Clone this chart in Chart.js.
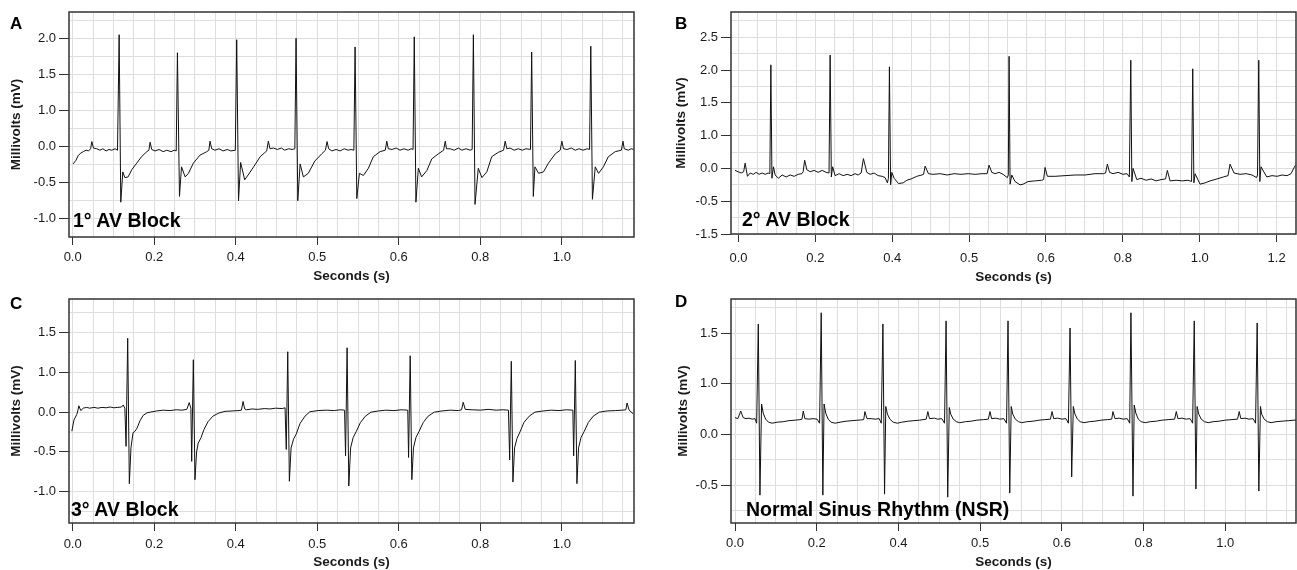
<!DOCTYPE html>
<html lang="en">
<head>
<meta charset="UTF-8">
<title>AV block ECG traces</title>
<script src="https://cdn.jsdelivr.net/npm/chart.js"></script>
<style>
  html, body { margin: 0; padding: 0; background: #fff; overflow: hidden; }
  #wrap { position: relative; width: 1297px; height: 570px; font-family: 'Liberation Sans', Arial, Helvetica, sans-serif; color: #000; }
  canvas { position: absolute; }
  .letter { position: absolute; font-weight: bold; font-size: 17px; line-height: 1; }
  .note { position: absolute; font-weight: bold; font-size: 19.5px; line-height: 1; white-space: nowrap; }
</style>
</head>
<body>
<div id="wrap">
  <canvas id="chartA" width="648" height="285" style="left:0;top:0"></canvas>
  <canvas id="chartB" width="637" height="285" style="left:660px;top:0"></canvas>
  <canvas id="chartC" width="648" height="285" style="left:0;top:285px"></canvas>
  <canvas id="chartD" width="637" height="285" style="left:660px;top:285px"></canvas>
  <div class="letter" style="left:10px;top:15px">A</div>
  <div class="letter" style="left:675px;top:15px">B</div>
  <div class="letter" style="left:10px;top:295px">C</div>
  <div class="letter" style="left:675px;top:293px">D</div>
  <div class="note" style="left:73px;top:211px">1° AV Block</div>
  <div class="note" style="left:742px;top:210px">2° AV Block</div>
  <div class="note" style="left:71px;top:500px">3° AV Block</div>
  <div class="note" style="left:746px;top:500px">Normal Sinus Rhythm (NSR)</div>
</div>
<script>
// tick labels as printed on each axis (they are evenly spaced on the page)
const xTicksA = [0.0, 0.2, 0.4, 0.5, 0.6, 0.8, 1.0];
const yTicksA = [2.0, 1.5, 1.0, 0.0, -0.5, -1.0];
const xTicksB = [0.0, 0.2, 0.4, 0.5, 0.6, 0.8, 1.0, 1.2];
const yTicksB = [2.5, 2.0, 1.5, 1.0, 0.0, -0.5, -1.5];
const xTicksC = [0.0, 0.2, 0.4, 0.5, 0.6, 0.8, 1.0];
const yTicksC = [1.5, 1.0, 0.0, -0.5, -1.0];
const xTicksD = [0.0, 0.2, 0.4, 0.5, 0.6, 0.8, 1.0];
const yTicksD = [1.5, 1.0, 0.0, -0.5];

// A: 1st degree AV block, seconds / millivolts read against the printed ticks
const timeA = [0.001,0.008,0.014,0.020,0.026,0.033,0.039,0.044,0.047,0.051,0.059,0.067,0.074,0.082,0.089,0.096,0.104,0.110,
  0.114,0.118,0.123,0.128,0.136,0.145,0.157,0.169,0.182,0.187,0.190,0.194,0.202,0.212,0.222,0.231,0.241,0.249,0.254,
  0.257,0.262,0.267,0.276,0.284,0.296,0.312,0.329,0.334,0.337,0.341,0.349,0.359,0.369,0.379,0.388,0.399,
  0.4012,0.4034,0.406,0.411,0.416,0.422,0.430,0.435,0.438,0.440,0.442,0.446,0.451,0.456,0.460,0.465,0.469,0.4725,
  0.474,0.4761,0.479,0.483,0.489,0.497,0.5055,0.510,0.512,0.514,0.518,0.523,0.528,0.533,0.538,0.5415,0.5449,
  0.5464,0.5485,0.5517,0.5566,0.5627,0.5688,0.5771,0.5834,0.5853,0.5871,0.5918,0.5967,0.603,0.613,0.623,0.630,0.635,
  0.638,0.642,0.648,0.656,0.669,0.681,0.697,0.710,0.714,0.717,0.726,0.736,0.746,0.755,0.765,0.775,0.780,
  0.783,0.787,0.795,0.804,0.816,0.828,0.844,0.857,0.861,0.865,0.873,0.883,0.893,0.903,0.912,0.923,
  0.926,0.930,0.934,0.943,0.955,0.967,0.984,0.996,1.000,1.004,1.013,1.023,1.033,1.042,1.052,1.062,1.068,
  1.071,1.075,1.082,1.090,1.102,1.114,1.131,1.146,1.150,1.153,1.163,1.170,1.176];
const voltA = [-0.24,-0.19,-0.12,-0.09,-0.07,-0.05,-0.06,-0.03,0.14,-0.02,-0.03,-0.05,-0.03,-0.06,-0.04,-0.05,-0.03,-0.05,
  2.05,-0.77,-0.35,-0.43,-0.42,-0.32,-0.23,-0.14,-0.07,-0.05,0.12,-0.04,-0.06,-0.04,-0.07,-0.05,-0.07,-0.05,-0.06,
  1.80,-0.69,-0.28,-0.42,-0.37,-0.23,-0.12,-0.07,-0.05,0.15,-0.03,-0.05,-0.03,-0.06,-0.04,-0.06,-0.05,
  1.98,-0.75,-0.22,-0.46,-0.38,-0.28,-0.14,-0.09,-0.06,0.15,-0.03,-0.02,-0.04,-0.02,-0.05,-0.03,-0.04,-0.03,
  2.00,-0.75,-0.24,-0.42,-0.37,-0.20,-0.10,-0.05,0.14,-0.03,-0.06,-0.04,-0.06,-0.03,-0.05,-0.04,-0.05,
  1.88,-0.72,-0.37,-0.40,-0.30,-0.14,-0.07,-0.05,0.15,-0.03,-0.04,-0.02,-0.05,-0.03,-0.05,-0.03,-0.04,
  2.02,-0.77,-0.30,-0.42,-0.33,-0.17,-0.10,-0.05,0.15,-0.03,-0.03,-0.05,-0.02,-0.05,-0.03,-0.05,-0.04,
  2.05,-0.80,-0.30,-0.43,-0.35,-0.14,-0.08,-0.05,0.15,-0.03,-0.02,-0.05,-0.03,-0.05,-0.03,-0.04,
  1.81,-0.69,-0.28,-0.37,-0.35,-0.23,-0.10,-0.05,0.15,-0.03,-0.04,-0.02,-0.05,-0.03,-0.05,-0.03,-0.04,
  1.89,-0.73,-0.28,-0.37,-0.28,-0.14,-0.07,-0.05,0.15,-0.03,-0.05,-0.03,-0.04];

// B: 2nd degree AV block
const timeB = [-0.009,-0.001,0.007,0.0135,0.0174,0.0234,0.0304,0.0382,0.046,0.0538,0.0616,0.0694,0.0772,0.0817,
  0.0843,0.0871,0.091,0.0955,0.104,0.1137,0.124,0.1345,0.1449,0.1553,0.1649,0.1683,0.1722,0.1779,0.1865,0.1969,
  0.2073,0.2177,0.2281,0.2356,0.2385,0.2416,0.245,0.2515,0.2619,0.2723,0.2827,0.2931,0.3035,0.3113,0.3191,0.3251,
  0.3339,0.3425,0.3529,0.3633,0.3737,0.3815,0.3875,0.3901,0.3927,0.3958,0.399,0.4025,0.4081,0.4142,0.419,0.4246,
  0.432,0.4385,0.4408,0.4428,0.4471,0.4532,0.4623,0.4714,0.4805,0.4896,0.4987,0.5078,0.5169,0.5234,0.526,0.5295,
  0.5338,0.539,0.5442,0.5498,0.551,0.552,0.5533,0.5555,0.5598,0.5663,0.5702,0.5767,0.5858,0.5945,0.5969,0.5988,
  0.6036,0.6237,0.6497,0.6757,0.7017,0.7277,0.7493,0.755,0.7597,0.7654,0.7745,0.7875,0.8005,0.8109,0.8169,0.8206,
  0.8234,0.8265,0.8362,0.8473,0.8603,0.8734,0.8864,0.8994,0.9111,0.9157,0.9228,0.9384,0.954,0.9696,0.9787,0.9818,
  0.9847,0.9878,1.0008,1.0138,1.0268,1.045,1.0614,1.0736,1.0788,1.0892,1.1048,1.1204,1.136,1.1477,1.1503,1.1535,
  1.1563,1.1594,1.1743,1.188,1.2011,1.2141,1.2271,1.2375,1.2453,1.2492];
const voltB = [-0.03,-0.05,-0.07,-0.05,0.16,-0.12,-0.07,-0.09,-0.06,-0.09,-0.07,-0.09,-0.07,-0.08,
  2.08,-0.15,0.05,-0.10,-0.15,-0.10,-0.13,-0.10,-0.12,-0.09,-0.08,-0.05,0.25,-0.02,-0.05,-0.03,
  -0.06,-0.03,-0.06,-0.07,2.23,-0.13,0.05,-0.11,-0.08,-0.11,-0.09,-0.11,-0.08,-0.10,-0.07,0.30,
  -0.06,-0.09,-0.07,-0.11,-0.12,-0.14,-0.22,-0.15,2.05,-0.25,-0.06,-0.15,-0.23,-0.22,-0.18,-0.16,
  -0.12,-0.10,-0.09,0.07,-0.08,-0.09,-0.08,-0.10,-0.08,-0.09,-0.08,-0.09,-0.08,-0.08,0.10,-0.06,
  -0.08,-0.06,-0.09,-0.14,-0.10,2.21,-0.24,-0.10,-0.20,-0.25,-0.24,-0.20,-0.19,-0.18,-0.17,0.03,
  -0.12,-0.12,-0.11,-0.10,-0.10,-0.08,-0.08,-0.07,0.13,-0.06,-0.08,-0.06,-0.09,-0.08,-0.13,2.15,
  -0.20,0.00,-0.17,-0.15,-0.18,-0.16,-0.19,-0.17,-0.16,-0.03,-0.19,-0.18,-0.19,-0.18,-0.20,2.02,
  -0.22,-0.08,-0.24,-0.22,-0.19,-0.16,-0.13,-0.11,0.13,-0.07,-0.09,-0.08,-0.10,-0.14,-0.10,2.15,
  -0.20,0.05,-0.13,-0.11,-0.12,-0.10,-0.11,-0.08,0.02,0.10];

// C: 3rd degree AV block
const timeC = [-0.002,0.003,0.010,0.013,0.015,0.020,0.026,0.034,0.042,0.052,0.062,0.072,0.082,0.092,0.101,0.111,0.120,
  0.124,0.128,0.131,0.135,0.139,0.143,0.148,0.153,0.158,0.165,0.173,0.182,0.190,0.206,0.222,0.239,0.254,0.268,0.280,
  0.286,0.290,0.292,0.296,0.300,0.304,0.308,0.315,0.322,0.332,0.344,0.359,0.374,0.391,0.404,0.407,0.409,0.411,0.413,
  0.420,0.427,0.435,0.442,0.449,0.457,0.4605,0.462,0.4638,0.4658,0.4679,0.4709,0.474,0.479,0.485,0.491,0.501,0.511,
  0.521,0.528,0.5335,0.5347,0.5366,0.5387,0.5409,0.544,0.548,0.553,0.559,0.566,0.575,0.584,0.594,0.606,0.622,0.624,
  0.628,0.632,0.636,0.642,0.650,0.660,0.672,0.687,0.706,0.726,0.746,0.754,0.758,0.763,0.780,0.800,0.819,0.839,0.856,
  0.869,0.872,0.876,0.880,0.884,0.890,0.898,0.907,0.920,0.934,0.954,0.974,0.993,1.011,1.027,1.029,1.033,1.037,1.041,
  1.047,1.055,1.065,1.077,1.092,1.111,1.131,1.148,1.157,1.160,1.165,1.175];
const voltC = [-0.24,-0.10,-0.03,0.05,0.16,0.04,0.10,0.12,0.10,0.12,0.10,0.12,0.11,0.13,0.11,0.12,0.13,
  0.18,0.10,-0.43,1.43,-0.90,-0.45,-0.26,-0.24,-0.20,-0.11,-0.04,-0.01,0.00,0.03,0.05,0.04,0.06,0.05,0.07,
  0.24,0.10,-0.62,1.16,-0.85,-0.50,-0.39,-0.32,-0.22,-0.12,-0.05,-0.01,0.02,0.03,0.04,0.05,0.27,0.08,0.06,
  0.08,0.07,0.09,0.08,0.10,0.09,0.11,-0.47,1.26,-0.87,-0.45,-0.34,-0.28,-0.14,-0.05,0.01,0.04,0.05,
  0.04,0.06,0.05,-0.55,1.31,-0.93,-0.45,-0.32,-0.24,-0.13,-0.05,0.00,0.03,0.05,0.04,0.06,0.05,-0.57,
  1.21,-0.85,-0.45,-0.32,-0.24,-0.13,-0.05,0.00,0.03,0.05,0.04,0.06,0.25,0.07,0.06,0.05,0.07,0.05,0.06,
  0.05,-0.60,1.14,-0.88,-0.45,-0.33,-0.24,-0.13,-0.05,0.00,0.03,0.05,0.04,0.06,0.05,-0.55,1.15,-0.90,-0.45,
  -0.32,-0.24,-0.13,-0.05,0.00,0.03,0.04,0.05,0.06,0.23,0.05,-0.02];

// D: normal sinus rhythm
const timeD = [0.000,0.007,0.014,0.020,0.027,0.034,0.042,0.049,0.053,0.057,0.061,0.065,0.069,0.075,0.082,0.091,0.103,
  0.118,0.132,0.147,0.159,0.164,0.167,0.171,0.181,0.191,0.201,0.207,0.211,0.215,0.218,0.222,0.228,0.235,0.245,0.257,
  0.272,0.286,0.301,0.315,0.318,0.323,0.333,0.343,0.353,0.358,0.362,0.366,0.369,0.373,0.379,0.387,0.397,0.404,0.412,
  0.419,0.426,0.434,0.436,0.438,0.444,0.448,0.453,0.4564,0.4583,0.4603,0.4622,0.4640,0.467,0.471,0.475,0.482,0.489,
  0.496,0.504,0.510,0.512,0.514,0.519,0.524,0.529,0.5323,0.5341,0.5362,0.5380,0.5399,0.543,0.547,0.551,0.557,0.565,
  0.572,0.579,0.586,0.588,0.590,0.595,0.600,0.610,0.616,0.620,0.624,0.628,0.632,0.638,0.645,0.654,0.667,0.681,0.696,
  0.711,0.722,0.725,0.730,0.740,0.750,0.760,0.766,0.769,0.774,0.777,0.781,0.787,0.794,0.804,0.816,0.831,0.845,0.860,
  0.876,0.880,0.884,0.894,0.904,0.914,0.920,0.924,0.928,0.931,0.935,0.941,0.949,0.958,0.970,0.985,1.000,1.014,1.030,
  1.034,1.038,1.048,1.058,1.068,1.074,1.078,1.082,1.086,1.089,1.095,1.103,1.112,1.124,1.139,1.154,1.168,1.173];
const voltD = [0.33,0.31,0.46,0.33,0.31,0.32,0.30,0.31,0.22,1.59,-0.60,0.60,0.42,0.30,0.24,0.22,0.24,
  0.25,0.27,0.28,0.29,0.30,0.46,0.31,0.30,0.31,0.30,0.22,1.70,-0.60,0.60,0.42,0.30,0.24,0.22,0.24,
  0.26,0.27,0.28,0.29,0.45,0.31,0.31,0.30,0.31,0.22,1.59,-0.59,0.55,0.40,0.30,0.24,0.22,0.24,0.26,
  0.27,0.28,0.30,0.45,0.31,0.32,0.30,0.31,0.22,1.62,-0.62,0.53,0.40,0.30,0.25,0.23,0.25,0.26,
  0.28,0.29,0.30,0.45,0.31,0.32,0.30,0.31,0.22,1.62,-0.58,0.55,0.40,0.30,0.25,0.23,0.25,0.26,
  0.28,0.29,0.30,0.45,0.31,0.32,0.30,0.31,0.22,1.55,-0.42,0.55,0.40,0.30,0.25,0.23,0.25,0.26,0.28,
  0.29,0.30,0.45,0.31,0.32,0.30,0.31,0.22,1.70,-0.61,0.58,0.42,0.30,0.25,0.23,0.25,0.26,0.28,0.29,
  0.30,0.45,0.31,0.32,0.30,0.31,0.22,1.62,-0.54,0.55,0.40,0.30,0.25,0.23,0.25,0.26,0.28,0.29,0.30,
  0.45,0.31,0.32,0.30,0.31,0.22,1.60,-0.56,0.55,0.40,0.30,0.25,0.23,0.25,0.26,0.27,0.28,0.28];

Chart.defaults.font.family = "'Liberation Sans', Arial, Helvetica, sans-serif";
Chart.defaults.color = '#1a1a1a';

// position of a value between the printed ticks (ticks sit one unit apart)
function toSlot(v, ticks) {
  const n = ticks.length;
  const dir = Math.sign(ticks[n - 1] - ticks[0]);
  let i = 0;
  while (i < n - 2 && (v - ticks[i + 1]) * dir > 0) i++;
  return i + (v - ticks[i]) / (ticks[i + 1] - ticks[i]);
}

function isWhole(v) { return Math.abs(v - Math.round(v)) < 1e-6; }

// grid every `step`; minor lines sitting on the frame are dropped
function stepTicks(step) {
  return function (scale) {
    const list = [];
    for (let k = Math.ceil(scale.min / step - 1e-6); k * step <= scale.max + 1e-6; k++) {
      const v = k * step;
      if (!isWhole(v) && (v - scale.min < 0.05 || scale.max - v < 0.05)) continue;
      list.push({ value: v });
    }
    scale.ticks = list;
  };
}

function tickText(ticks) {
  return v => (isWhole(v) && ticks[Math.round(v)] !== undefined) ? ticks[Math.round(v)].toFixed(1) : '';
}

const framePlugin = {
  id: 'frame',
  afterDraw(chart) {
    const { ctx, chartArea: a } = chart;
    ctx.save();
    ctx.strokeStyle = '#333';
    ctx.lineWidth = 1.5;
    ctx.strokeRect(a.left, a.top, a.right - a.left, a.bottom - a.top);
    ctx.restore();
  }
};

const panels = [
  { id: 'chartA', xTicks: xTicksA, yTicks: yTicksA, time: timeA, volt: voltA, xRange: [-0.009, 1.177], yRange: [2.364, -1.252],
    yWidth: 69, xHeight: 48, padTop: 12, padRight: 14, xTickPad: 5, yTitlePad: 8, xTitlePad: 1 },
  { id: 'chartB', xTicks: xTicksB, yTicks: yTicksB, time: timeB, volt: voltB, xRange: [-0.0194, 1.2504], yRange: [2.886, -1.5],
    yWidth: 71, xHeight: 51, padTop: 12, padRight: 1, xTickPad: 9, yTitlePad: 13, xTitlePad: 0 },
  { id: 'chartC', xTicks: xTicksC, yTicks: yTicksC, time: timeC, volt: voltC, xRange: [-0.009, 1.177], yRange: [1.924, -1.395],
    yWidth: 69, xHeight: 47, padTop: 14, padRight: 14, xTickPad: 6, yTitlePad: 8, xTitlePad: 0 },
  { id: 'chartD', xTicks: xTicksD, yTicks: yTicksD, time: timeD, volt: voltD, xRange: [-0.0098, 1.173], yRange: [1.836, -0.875],
    yWidth: 71, xHeight: 47, padTop: 14, padRight: 1, xTickPad: 5, yTitlePad: 15, xTitlePad: 0 }
];

panels.forEach(p => {
  const pts = p.time.map((t, i) => ({ x: toSlot(t, p.xTicks), y: toSlot(p.volt[i], p.yTicks) }));
  new Chart(document.getElementById(p.id), {
    type: 'line',
    data: { datasets: [{ data: pts, borderColor: '#111', borderWidth: 1, pointRadius: 0, tension: 0 }] },
    options: {
      responsive: false,
      animation: false,
      devicePixelRatio: 1,
      layout: { padding: { top: p.padTop, right: p.padRight, left: 0, bottom: 0 } },
      plugins: { legend: { display: false }, tooltip: { enabled: false } },
      scales: {
        x: {
          type: 'linear',
          min: toSlot(p.xRange[0], p.xTicks),
          max: toSlot(p.xRange[1], p.xTicks),
          afterBuildTicks: stepTicks(0.25),
          afterFit: s => { s.height = p.xHeight; },
          border: { display: false },
          grid: { color: '#dedede', tickLength: 8, tickColor: c => isWhole(c.tick.value) ? '#333' : 'rgba(0,0,0,0)' },
          ticks: { autoSkip: false, maxRotation: 0, padding: p.xTickPad, font: { size: 13 }, callback: tickText(p.xTicks) },
          title: { display: true, text: 'Seconds (s)', font: { size: 13.5, weight: 'bold' }, padding: { top: 0, bottom: p.xTitlePad } }
        },
        y: {
          type: 'linear',
          reverse: true,
          min: toSlot(p.yRange[0], p.yTicks),
          max: toSlot(p.yRange[1], p.yTicks),
          afterBuildTicks: stepTicks(0.5),
          afterFit: s => { s.width = p.yWidth; },
          border: { display: false },
          grid: { color: '#dedede', tickLength: 10, tickColor: c => isWhole(c.tick.value) ? '#333' : 'rgba(0,0,0,0)' },
          ticks: { autoSkip: false, padding: 3, font: { size: 13 }, callback: tickText(p.yTicks) },
          title: { display: true, text: 'Millivolts (mV)', font: { size: 13.5, weight: 'bold' }, padding: { top: p.yTitlePad, bottom: 0 } }
        }
      }
    },
    plugins: [framePlugin]
  });
});
</script>
</body>
</html>
